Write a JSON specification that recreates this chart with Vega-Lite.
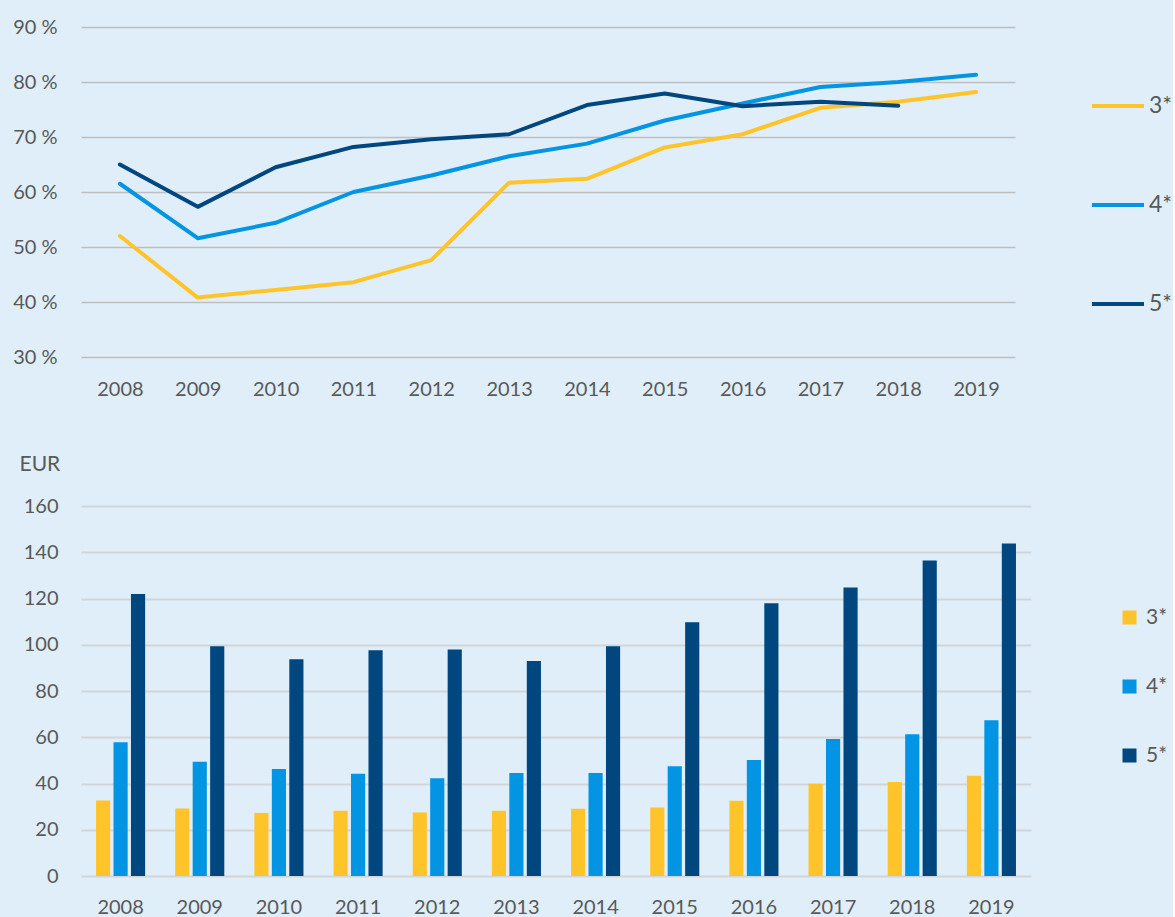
{
  "$schema": "https://vega.github.io/schema/vega-lite/v6.json",
  "background": "#DFEEF8",
  "padding": {"left": 12, "top": 17, "right": 0, "bottom": 0},
  "spacing": 54,
  "config": {
    "view": {"stroke": null},
    "font": "Lato",
    "axis": {
      "labelFont": "Lato",
      "labelColor": "#595959",
      "labelFontSize": 20,
      "domain": false,
      "ticks": false,
      "tickSize": 0,
      "title": null
    },
    "legend": {
      "labelFont": "Lato",
      "labelColor": "#595959",
      "title": null
    }
  },
  "datasets": {
    "share": [
      {"year": "2008", "cat": "3*", "pct": 52.0},
      {"year": "2009", "cat": "3*", "pct": 40.8},
      {"year": "2010", "cat": "3*", "pct": 42.2},
      {"year": "2011", "cat": "3*", "pct": 43.6},
      {"year": "2012", "cat": "3*", "pct": 47.6},
      {"year": "2013", "cat": "3*", "pct": 61.7},
      {"year": "2014", "cat": "3*", "pct": 62.4},
      {"year": "2015", "cat": "3*", "pct": 68.1},
      {"year": "2016", "cat": "3*", "pct": 70.5},
      {"year": "2017", "cat": "3*", "pct": 75.3},
      {"year": "2018", "cat": "3*", "pct": 76.4},
      {"year": "2019", "cat": "3*", "pct": 78.2},
      {"year": "2008", "cat": "4*", "pct": 61.5},
      {"year": "2009", "cat": "4*", "pct": 51.6},
      {"year": "2010", "cat": "4*", "pct": 54.4},
      {"year": "2011", "cat": "4*", "pct": 60.0},
      {"year": "2012", "cat": "4*", "pct": 63.0},
      {"year": "2013", "cat": "4*", "pct": 66.5},
      {"year": "2014", "cat": "4*", "pct": 68.8},
      {"year": "2015", "cat": "4*", "pct": 73.0},
      {"year": "2016", "cat": "4*", "pct": 76.1},
      {"year": "2017", "cat": "4*", "pct": 79.1},
      {"year": "2018", "cat": "4*", "pct": 80.0},
      {"year": "2019", "cat": "4*", "pct": 81.3},
      {"year": "2008", "cat": "5*", "pct": 65.0},
      {"year": "2009", "cat": "5*", "pct": 57.3},
      {"year": "2010", "cat": "5*", "pct": 64.5},
      {"year": "2011", "cat": "5*", "pct": 68.2},
      {"year": "2012", "cat": "5*", "pct": 69.6},
      {"year": "2013", "cat": "5*", "pct": 70.5},
      {"year": "2014", "cat": "5*", "pct": 75.8},
      {"year": "2015", "cat": "5*", "pct": 77.9},
      {"year": "2016", "cat": "5*", "pct": 75.6},
      {"year": "2017", "cat": "5*", "pct": 76.4},
      {"year": "2018", "cat": "5*", "pct": 75.7}
    ],
    "price": [
      {"year": "2008", "cat": "3*", "eur": 32.6},
      {"year": "2009", "cat": "3*", "eur": 29.2},
      {"year": "2010", "cat": "3*", "eur": 27.3},
      {"year": "2011", "cat": "3*", "eur": 28.2},
      {"year": "2012", "cat": "3*", "eur": 27.5},
      {"year": "2013", "cat": "3*", "eur": 28.2},
      {"year": "2014", "cat": "3*", "eur": 29.1},
      {"year": "2015", "cat": "3*", "eur": 29.6},
      {"year": "2016", "cat": "3*", "eur": 32.5},
      {"year": "2017", "cat": "3*", "eur": 39.9},
      {"year": "2018", "cat": "3*", "eur": 40.7},
      {"year": "2019", "cat": "3*", "eur": 43.4},
      {"year": "2008", "cat": "4*", "eur": 57.8},
      {"year": "2009", "cat": "4*", "eur": 49.4},
      {"year": "2010", "cat": "4*", "eur": 46.3},
      {"year": "2011", "cat": "4*", "eur": 44.2},
      {"year": "2012", "cat": "4*", "eur": 42.3},
      {"year": "2013", "cat": "4*", "eur": 44.5},
      {"year": "2014", "cat": "4*", "eur": 44.5},
      {"year": "2015", "cat": "4*", "eur": 47.5},
      {"year": "2016", "cat": "4*", "eur": 50.2},
      {"year": "2017", "cat": "4*", "eur": 59.2},
      {"year": "2018", "cat": "4*", "eur": 61.3},
      {"year": "2019", "cat": "4*", "eur": 67.4},
      {"year": "2008", "cat": "5*", "eur": 121.9},
      {"year": "2009", "cat": "5*", "eur": 99.3},
      {"year": "2010", "cat": "5*", "eur": 93.7},
      {"year": "2011", "cat": "5*", "eur": 97.6},
      {"year": "2012", "cat": "5*", "eur": 98.0},
      {"year": "2013", "cat": "5*", "eur": 93.0},
      {"year": "2014", "cat": "5*", "eur": 99.3},
      {"year": "2015", "cat": "5*", "eur": 109.7},
      {"year": "2016", "cat": "5*", "eur": 117.9},
      {"year": "2017", "cat": "5*", "eur": 124.8},
      {"year": "2018", "cat": "5*", "eur": 136.4},
      {"year": "2019", "cat": "5*", "eur": 143.8}
    ]
  },
  "resolve": {"scale": {"color": "independent"}, "legend": {"color": "independent"}},
  "vconcat": [
    {
      "width": 934,
      "height": 330,
      "data": {"name": "share"},
      "mark": {"type": "line", "strokeWidth": 4, "strokeCap": "round", "strokeJoin": "round"},
      "encoding": {
        "x": {
          "field": "year", "type": "ordinal",
          "scale": {"type": "point", "padding": 0.5},
          "axis": {"labelAngle": 0, "labelPadding": 22, "grid": false}
        },
        "y": {
          "field": "pct", "type": "quantitative",
          "scale": {"domain": [30, 90], "nice": false, "zero": false},
          "axis": {
            "values": [30, 40, 50, 60, 70, 80, 90],
            "labelExpr": "datum.value + ' %'",
            "labelPadding": 24,
            "grid": true,
            "gridColor": "#BEBEBE",
            "gridWidth": 1.3
          }
        },
        "color": {
          "field": "cat", "type": "nominal",
          "scale": {"domain": ["3*", "4*", "5*"], "range": ["#FFC42A", "#0394E4", "#00467F"]},
          "legend": {
            "orient": "none",
            "legendX": 1009,
            "legendY": 51,
            "symbolType": "stroke",
            "symbolSize": 2704,
            "symbolStrokeWidth": 4,
            "labelFontSize": 23,
            "labelOffset": 3,
            "rowPadding": 59
          }
        }
      }
    },
    {
      "width": 950,
      "height": 370,
      "data": {"name": "price"},
      "mark": {"type": "bar"},
      "encoding": {
        "x": {
          "field": "year", "type": "ordinal",
          "scale": {"paddingInner": 0.38, "paddingOuter": 0.19},
          "axis": {"labelAngle": 0, "labelPadding": 21, "grid": false}
        },
        "xOffset": {
          "field": "cat", "type": "nominal",
          "scale": {"paddingInner": 0.19, "paddingOuter": 0}
        },
        "y": {
          "field": "eur", "type": "quantitative",
          "scale": {"domain": [0, 160], "nice": false},
          "axis": {
            "values": [0, 20, 40, 60, 80, 100, 120, 140, 160],
            "labelPadding": 23,
            "grid": true,
            "gridColor": "#D2D5D8",
            "gridWidth": 2,
            "title": "EUR",
            "titleAngle": 0,
            "titleAlign": "left",
            "titleBaseline": "middle",
            "titleX": -62,
            "titleY": -42,
            "titleFont": "Lato",
            "titleFontSize": 21,
            "titleFontWeight": "normal",
            "titleColor": "#595959"
          }
        },
        "color": {
          "field": "cat", "type": "nominal",
          "scale": {"domain": ["3*", "4*", "5*"], "range": ["#FFC42A", "#0394E4", "#00467F"]},
          "legend": {
            "orient": "none",
            "legendX": 1038,
            "legendY": 101,
            "symbolType": "square",
            "symbolSize": 196,
            "symbolStrokeWidth": 0,
            "labelFontSize": 21,
            "labelOffset": 6,
            "rowPadding": 47
          }
        }
      }
    }
  ]
}
